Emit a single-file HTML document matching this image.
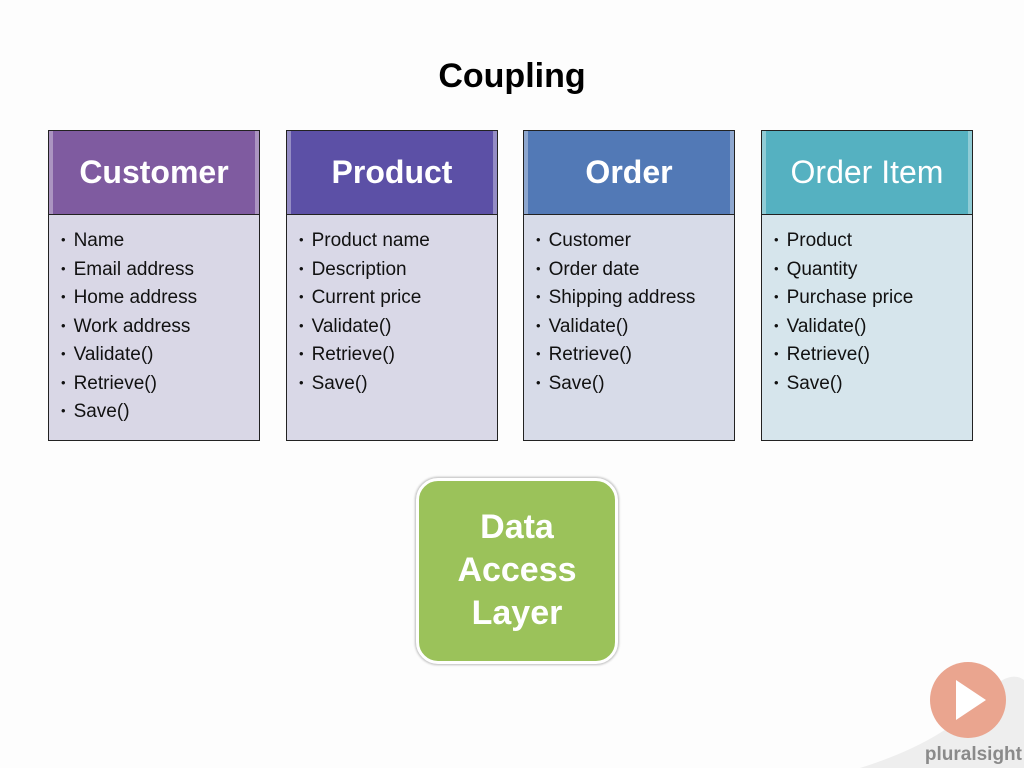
<!DOCTYPE html>
<html><head><meta charset="utf-8"><style>
body{margin:0;width:1024px;height:768px;background:#fdfdfd;position:relative;overflow:hidden;font-family:"Liberation Sans",sans-serif}
.t{position:absolute;top:57px;left:0;width:1024px;text-align:center;font-weight:bold;font-size:34px;color:#000}
.box{position:absolute;top:130px;width:212px;height:311px;border:1px solid #222;box-sizing:border-box}
.h{height:83px;border-bottom:1px solid #222;color:#fff;font-weight:bold;font-size:32px;text-align:center;line-height:83px;box-shadow:inset 4px 0 0 rgba(255,255,255,.35),inset -4px 0 0 rgba(255,255,255,.35)}
.b{padding:11px 0 0 12px;font-size:19px;color:#111}
.b div{height:28.5px;line-height:28.5px}
.b div:before{content:"•";font-size:13px;margin-right:8px;vertical-align:2px}
.dal{position:absolute;left:416px;top:478px;width:202px;height:186px;box-sizing:border-box;border:3px solid #fff;border-radius:22px;background:#9bc25a;box-shadow:0 0 2px 1px #bbb;color:#fff;font-weight:bold;font-size:34px;text-align:center;line-height:43px;padding-top:25px}
</style></head><body>
<div class="t">Coupling</div>
<div class="box" style="left:48px;background:#d9d7e6"><div class="h" style="background:#7f5ba0">Customer</div><div class="b"><div>Name</div><div>Email address</div><div>Home address</div><div>Work address</div><div>Validate()</div><div>Retrieve()</div><div>Save()</div></div></div>
<div class="box" style="left:286px;background:#d9d8e7"><div class="h" style="background:#5c50a6">Product</div><div class="b"><div>Product name</div><div>Description</div><div>Current price</div><div>Validate()</div><div>Retrieve()</div><div>Save()</div></div></div>
<div class="box" style="left:523px;background:#d7dbe8"><div class="h" style="background:#5279b6">Order</div><div class="b"><div>Customer</div><div>Order date</div><div>Shipping address</div><div>Validate()</div><div>Retrieve()</div><div>Save()</div></div></div>
<div class="box" style="left:761px;background:#d6e5ec"><div class="h" style="background:#55b1c1;font-weight:normal">Order Item</div><div class="b"><div>Product</div><div>Quantity</div><div>Purchase price</div><div>Validate()</div><div>Retrieve()</div><div>Save()</div></div></div>
<div class="dal">Data<br>Access<br>Layer</div>
<svg style="position:absolute;left:840px;top:650px" width="184" height="118">
<path d="M20 118 Q110 90 150 40 Q170 20 184 30 L184 118Z" fill="#eeeeee"/>
<circle cx="128" cy="50" r="38" fill="#eaa58f"/>
<path d="M116 30 L146 50 L116 70Z" fill="#fff"/>
<text x="182" y="110" text-anchor="end" font-family="Liberation Sans" font-size="19" font-weight="bold" fill="#8a8a8a">pluralsight</text>
</svg>
</body></html>
